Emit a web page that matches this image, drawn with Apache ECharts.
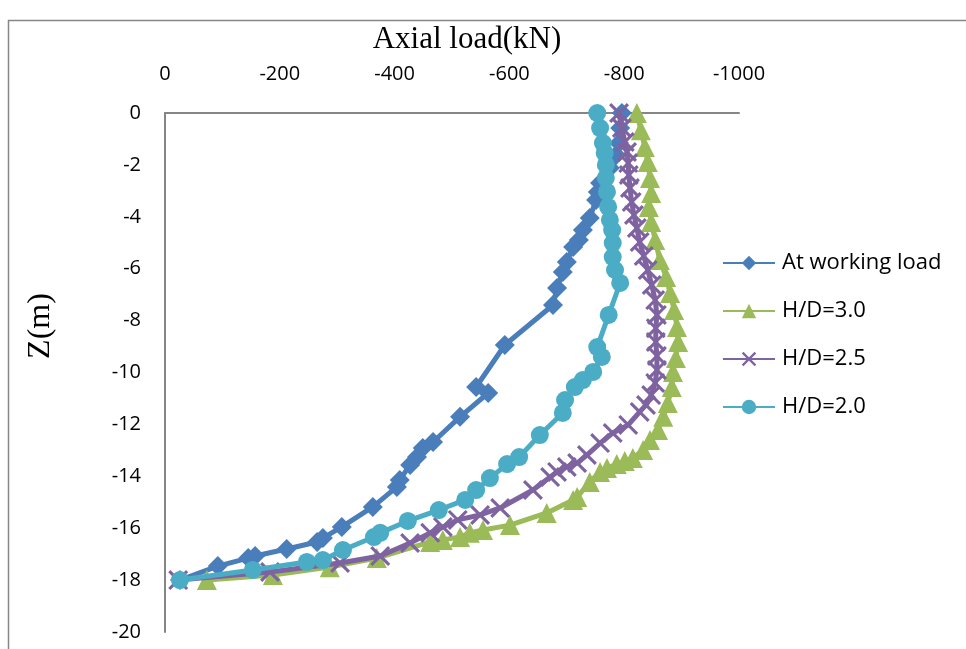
<!DOCTYPE html>
<html>
<head>
<meta charset="utf-8">
<script src="https://cdn.jsdelivr.net/npm/echarts@6/dist/echarts.min.js"></script>
<style>
html,body{margin:0;padding:0;background:#fff;}
#c{width:966px;height:649px;}
</style>
</head>
<body>
<div id="c"></div>
<script>
// Axis ticks
const xTicks = [0, -200, -400, -600, -800, -1000];
const yTicks = [0, -2, -4, -6, -8, -10, -12, -14, -16, -18, -20];
const seriesNames = ['At working load', 'H/D=3.0', 'H/D=2.5', 'H/D=2.0'];

// At working load
const wlLoad  = [-796,-793,-791,-786,-775,-758,-754,-751,-740,-728,-721,-711,-700,-693,-683,-676,-592,-542,-563,-514,-467,-449,-439,-427,-409,-404,-362,-308,-275,-265,-212,-157,-145,-92,-26];
const wlDepth = [0,-0.58,-1.16,-1.62,-2.12,-2.70,-3.04,-3.35,-4.05,-4.51,-4.89,-5.16,-5.74,-6.13,-6.74,-7.40,-8.94,-10.56,-10.79,-11.71,-12.68,-12.91,-13.26,-13.56,-14.14,-14.41,-15.18,-15.95,-16.38,-16.53,-16.80,-17.07,-17.15,-17.46,-18];

// H/D = 3.0
const hd30Load  = [-822,-829,-836,-841,-845,-847,-843,-847,-854,-862,-873,-880,-887,-892,-894,-890,-885,-883,-876,-868,-859,-845,-833,-815,-801,-787,-770,-758,-740,-718,-711,-665,-601,-554,-531,-514,-484,-462,-369,-287,-188,-73];
const hd30Depth = [0,-0.66,-1.31,-1.89,-2.50,-3.08,-3.62,-4.20,-4.89,-5.66,-6.32,-6.94,-7.59,-8.25,-8.82,-9.44,-9.98,-10.56,-11.18,-11.71,-12.22,-12.60,-12.99,-13.29,-13.41,-13.53,-13.68,-13.83,-14.22,-14.80,-14.91,-15.41,-15.88,-16.07,-16.18,-16.34,-16.45,-16.53,-17.15,-17.50,-17.80,-18];

// H/D = 2.5
const hd25Load  = [-791,-796,-801,-805,-807,-808,-810,-813,-817,-822,-827,-834,-841,-848,-854,-857,-855,-855,-857,-857,-854,-847,-838,-827,-807,-780,-758,-735,-718,-700,-683,-671,-641,-584,-549,-510,-484,-462,-427,-375,-305,-183,-23];
const hd25Depth = [0,-0.58,-1.12,-1.50,-1.93,-2.39,-2.89,-3.43,-3.93,-4.43,-4.97,-5.51,-6.05,-6.63,-7.21,-7.78,-8.29,-8.82,-9.36,-9.90,-10.40,-10.87,-11.25,-11.52,-12.02,-12.33,-12.72,-13.18,-13.49,-13.64,-13.83,-14.03,-14.53,-15.22,-15.49,-15.68,-15.95,-16.18,-16.57,-17.07,-17.34,-17.69,-18];

// H/D = 2.0
const hd20Load  = [-753,-758,-763,-766,-768,-768,-770,-772,-775,-779,-780,-780,-784,-793,-773,-753,-761,-746,-728,-714,-697,-693,-653,-617,-596,-566,-542,-523,-477,-423,-375,-364,-310,-275,-247,-153,-26];
const hd20Depth = [0,-0.58,-1.16,-1.54,-2.00,-2.50,-3.04,-3.62,-4.12,-4.51,-5.01,-5.55,-6.05,-6.55,-7.78,-9.02,-9.40,-9.98,-10.29,-10.56,-11.06,-11.56,-12.41,-13.26,-13.53,-14.07,-14.53,-14.91,-15.30,-15.72,-16.18,-16.34,-16.84,-17.23,-17.30,-17.61,-18];

function pairs(xs, ys){ return xs.map((v,i)=>[v, ys[i]]); }

const X_PATH = 'path://M0,1.1L1.1,0L10,8.9L8.9,10Z M8.9,0L10,1.1L1.1,10L0,8.9Z';

const colors = ['#4A7EBB', '#9BBB59', '#7F63A1', '#4BACC6'];
const symbols = ['diamond', 'triangle', X_PATH, 'circle'];
const sizes = [20, 20, 20, 18];
const datasets = [pairs(wlLoad, wlDepth), pairs(hd30Load, hd30Depth), pairs(hd25Load, hd25Depth), pairs(hd20Load, hd20Depth)];

const chart = echarts.init(document.getElementById('c'), null, {renderer:'canvas'});
const tickFont = {fontFamily:'Open Sans', fontSize:20, color:'#000'};

chart.setOption({
  animation:false,
  backgroundColor:'#fff',
  color: colors,
  grid:{left:165, right:227, top:113, bottom:17, containLabel:false},
  xAxis:{
    type:'value', position:'top', min:-1000, max:0, interval:200, inverse:true,
    axisLine:{show:true, onZero:false, lineStyle:{color:'#868686', width:2}},
    axisTick:{show:false},
    splitLine:{show:false},
    axisLabel:Object.assign({margin:29, formatter:(v)=>String(v)}, tickFont)
  },
  yAxis:{
    type:'value', min:-20, max:0, interval:2,
    axisLine:{show:true, onZero:false, lineStyle:{color:'#868686', width:2}},
    axisTick:{show:false},
    splitLine:{show:false},
    axisLabel:Object.assign({margin:24, formatter:(v)=>String(v)}, tickFont)
  },
  legend:{
    orient:'vertical', left:717, top:247,
    itemWidth:52, itemHeight:18, itemGap:26,
    textStyle:{fontFamily:'Open Sans', fontSize:22, color:'#000', padding:[0,0,0,2]},
    data: seriesNames
  },
  graphic:[
    {type:'rect', shape:{x:8.5, y:20.5, width:970, height:660}, style:{fill:'none', stroke:'#868686', lineWidth:1.5}, silent:true},
    {type:'text', x:467, y:40, style:{text:'Axial load(kN)', font:'31px "Liberation Serif"', fill:'#000', textAlign:'center', textVerticalAlign:'middle'}},
    {type:'text', x:41, y:326, rotation:Math.PI/2, style:{text:'Z(m)', font:'32px "Liberation Serif"', fill:'#000', textAlign:'center', textVerticalAlign:'middle'}}
  ],
  series: seriesNames.map((n,i)=>({
    name:n, type:'line', data:datasets[i],
    symbol:symbols[i], symbolSize:sizes[i], showAllSymbol:true,
    lineStyle:{width:5, color:colors[i]},
    itemStyle:{color:colors[i]},
    z:2+i
  }))
});
</script>
</body>
</html>
